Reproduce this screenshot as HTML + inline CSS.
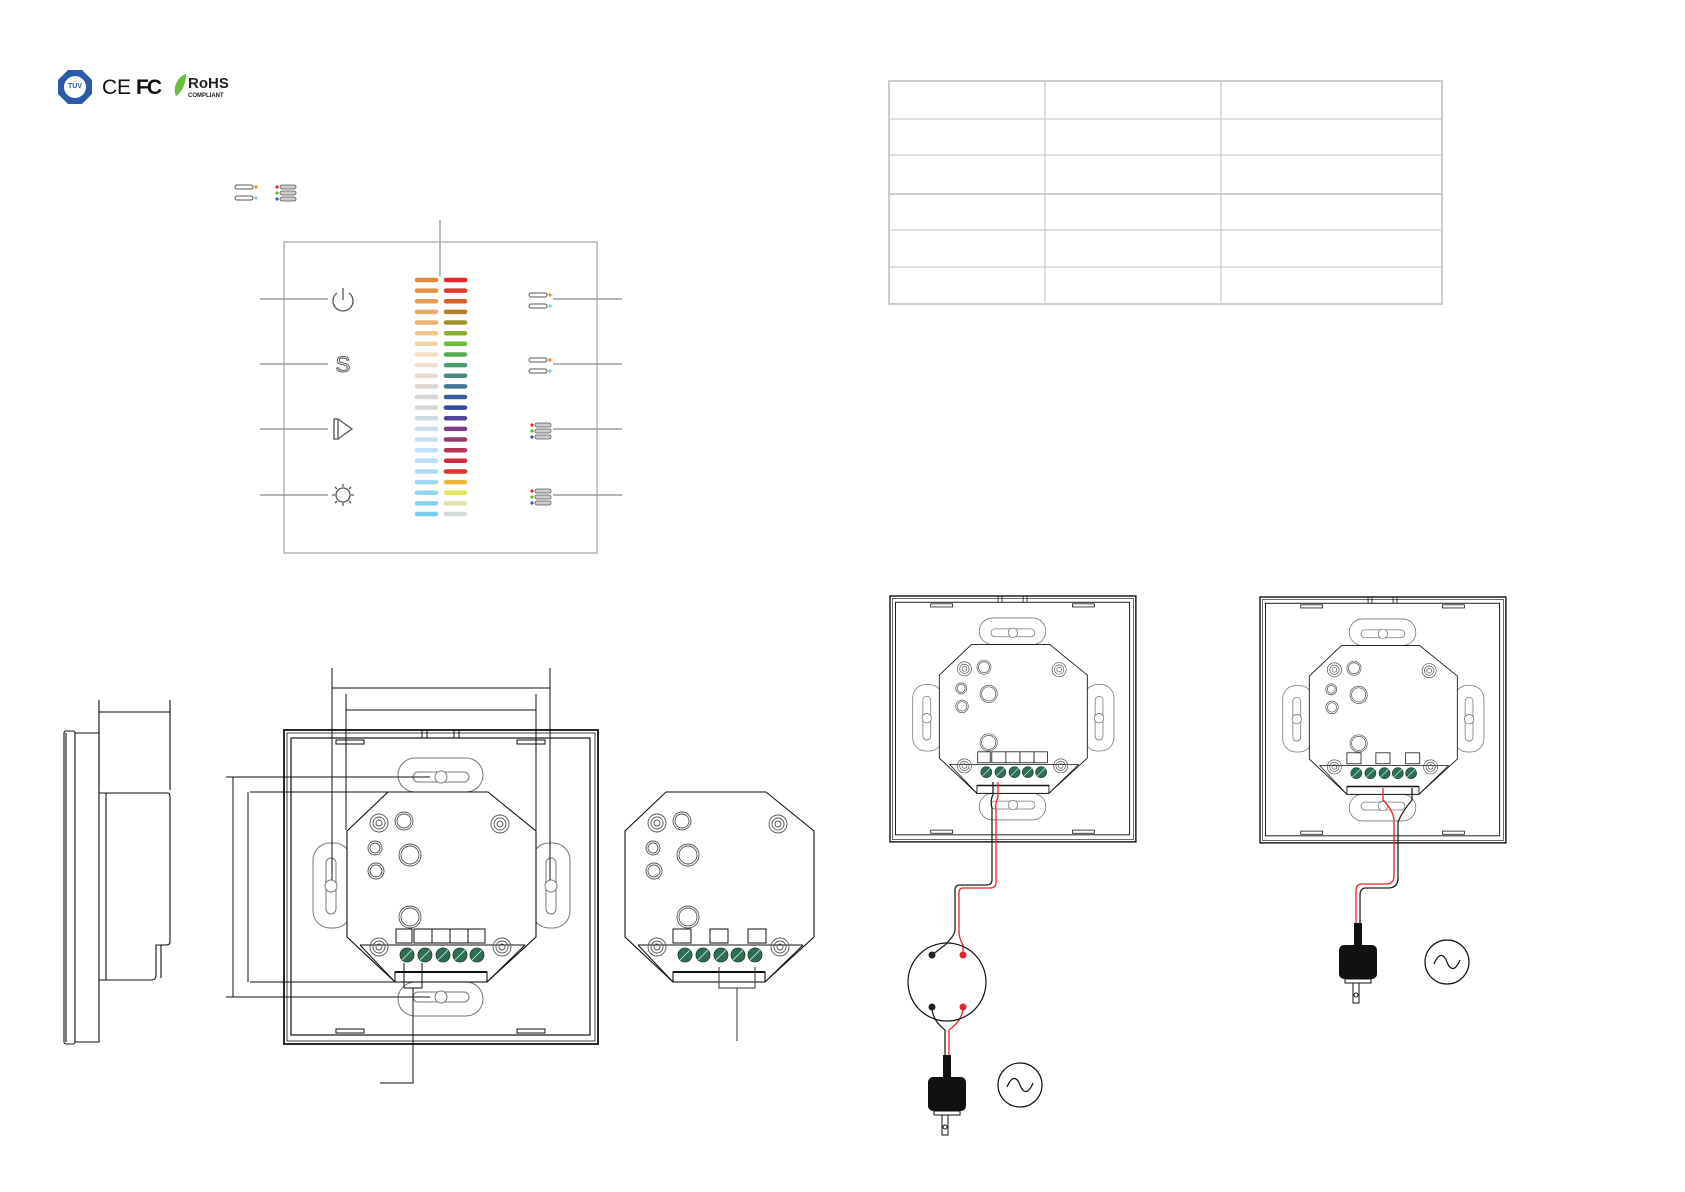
<!DOCTYPE html>
<html><head><meta charset="utf-8"><style>
html,body{margin:0;padding:0;background:#fff;}
svg{display:block;}
</style></head><body>
<svg width="1685" height="1192" viewBox="0 0 1685 1192" xmlns="http://www.w3.org/2000/svg" font-family="Liberation Sans, sans-serif">
<defs>
  <g id="plates" fill="#fff" stroke="#777" stroke-width="1">
    <rect x="114" y="28" width="85" height="34" rx="17"/>
    <rect x="129" y="42" width="56" height="10" rx="5"/><circle cx="157" cy="47" r="6"/>
    <rect x="114" y="252" width="85" height="34" rx="17"/>
    <rect x="129" y="262" width="56" height="10" rx="5"/><circle cx="157" cy="267" r="6"/>
    <rect x="29" y="113" width="38" height="85" rx="17"/>
    <rect x="42" y="128" width="10" height="56" rx="5"/><circle cx="47" cy="156" r="6"/>
    <rect x="248" y="113" width="38" height="85" rx="17"/>
    <rect x="262" y="128" width="10" height="56" rx="5"/><circle cx="267" cy="156" r="6"/>
  </g>
  <g id="frame" fill="none" stroke="#111">
    <rect x="0" y="0" width="314" height="314" stroke-width="1.8"/>
    <rect x="3" y="3" width="308" height="308" stroke-width="0.8"/>
    <rect x="7" y="8" width="299" height="297" stroke-width="1.2"/>
    <path d="M138 0 V8 M143 0 V8 M170 0 V8 M175 0 V8" stroke-width="1"/>
    <rect x="52" y="10" width="28" height="4" stroke-width="1"/>
    <rect x="233" y="10" width="28" height="4" stroke-width="1"/>
    <rect x="52" y="299" width="28" height="4" stroke-width="1"/>
    <rect x="233" y="299" width="28" height="4" stroke-width="1"/>
  </g>
  <g id="modbase">
    <polygon points="104,62 204,62 252,101 252,207 203,252 111,252 63,207 63,101" fill="#fff" stroke="#111" stroke-width="1.1"/>
    <path d="M76 215 H241 M76 215 L111 252 M241 215 L203 252" stroke="#111" stroke-width="1" fill="none"/>
    <g fill="none" stroke="#555" stroke-width="0.9">
      <circle cx="95" cy="93" r="9"/><circle cx="95" cy="93" r="6"/><circle cx="95" cy="93" r="3"/>
      <circle cx="120" cy="91" r="9"/><circle cx="120" cy="91" r="7"/>
      <circle cx="91" cy="118" r="7"/><circle cx="91" cy="118" r="5"/>
      <circle cx="92" cy="141" r="8"/><circle cx="92" cy="141" r="6"/>
      <circle cx="126" cy="125" r="11"/><circle cx="126" cy="125" r="9"/>
      <circle cx="126" cy="187" r="11"/><circle cx="126" cy="187" r="9"/>
      <circle cx="216" cy="94" r="9"/><circle cx="216" cy="94" r="6"/><circle cx="216" cy="94" r="3"/>
      <circle cx="95" cy="217" r="9"/><circle cx="95" cy="217" r="6"/><circle cx="95" cy="217" r="3"/>
      <circle cx="218" cy="217" r="9"/><circle cx="218" cy="217" r="6"/><circle cx="218" cy="217" r="3"/>
    </g>
    <g fill="#2f6e55" stroke="#1d3d30" stroke-width="0.8">
      <circle cx="123" cy="225" r="7"/><circle cx="141" cy="225" r="7"/><circle cx="159" cy="225" r="7"/><circle cx="176" cy="225" r="7"/><circle cx="193" cy="225" r="7"/>
    </g>
    <path d="M118 230 L128 220 M136 230 L146 220 M154 230 L164 220 M171 230 L181 220 M188 230 L198 220" stroke="#cfe" stroke-width="0.8"/>
    <rect x="111" y="242" width="92" height="10" fill="#fff" stroke="#111" stroke-width="1.1"/>
    <line x1="111" y1="242" x2="203" y2="242" stroke="#111" stroke-width="2"/>
  </g>
  <g id="box5" fill="#fff" stroke="#111" stroke-width="1">
    <rect x="112" y="199" width="16" height="14"/>
    <rect x="130" y="199" width="18" height="14"/><rect x="148" y="199" width="18" height="14"/><rect x="166" y="199" width="18" height="14"/><rect x="184" y="199" width="17" height="14"/>
  </g>
  <g id="box3" fill="#fff" stroke="#111" stroke-width="1">
    <rect x="111" y="199" width="18" height="14"/><rect x="148" y="199" width="18" height="14"/><rect x="186" y="199" width="18" height="14"/>
  </g>
  <g id="plug">
    <rect x="-4" y="-22" width="8" height="22" fill="#111"/>
    <rect x="-19" y="0" width="38" height="34" rx="5" fill="#111"/>
    <rect x="-13" y="34" width="26" height="4" fill="#fff" stroke="#111"/>
    <rect x="-5" y="38" width="6" height="20" fill="#fff" stroke="#111"/>
    <circle cx="-2" cy="50" r="2" fill="none" stroke="#111"/>
  </g>
  <g id="ac">
    <circle cx="0" cy="0" r="22" fill="#fff" stroke="#111" stroke-width="1.2"/>
    <path d="M-13 2 C-8 -10 -3 -8 0 0 C3 8 8 10 13 -2" fill="none" stroke="#111" stroke-width="1.2"/>
  </g>
  <g id="pair">
    <rect x="0" y="0" width="18" height="4" rx="2" fill="none" stroke="#555" stroke-width="1"/>
    <circle cx="21" cy="2" r="1.6" fill="#f08a24"/>
    <rect x="0" y="11" width="18" height="4" rx="2" fill="none" stroke="#555" stroke-width="1"/>
    <circle cx="21" cy="13" r="1.6" fill="#6ccff6"/>
  </g>
  <g id="trio">
    <circle cx="0" cy="2" r="1.6" fill="#e62429"/><rect x="3" y="0" width="16" height="4" rx="2" fill="#ccc" stroke="#555" stroke-width="0.8"/>
    <circle cx="0" cy="8" r="1.6" fill="#5bb531"/><rect x="3" y="6" width="16" height="4" rx="2" fill="#ccc" stroke="#555" stroke-width="0.8"/>
    <circle cx="0" cy="14" r="1.6" fill="#2f5fb5"/><rect x="3" y="12" width="16" height="4" rx="2" fill="#ccc" stroke="#555" stroke-width="0.8"/>
  </g>
</defs>

<!-- logos -->
<g>
  <polygon points="68,70 82,70 92,80 92,94 82,104 68,104 58,94 58,80" fill="#2a5aa8"/>
  <circle cx="75" cy="87" r="11" fill="#fff"/>
  <text x="75" y="88" font-size="7" font-weight="bold" text-anchor="middle" fill="#2a5aa8">TÜV</text>
  <text x="102" y="94" font-size="21" fill="#111">C</text><text x="117" y="94" font-size="21" fill="#111">E</text>
  <text x="136" y="94" font-size="21" font-weight="bold" fill="#111" letter-spacing="-2">FC</text>
  <path d="M176 96 C172 88 178 76 186 74 C186 84 182 92 176 96Z" fill="#6abf3a"/>
  <text x="188" y="88" font-size="15" font-weight="bold" fill="#222">RoHS</text>
  <text x="188" y="97" font-size="6" font-weight="bold" fill="#222">COMPLIANT</text>
</g>

<!-- legend icons -->
<use href="#pair" x="235" y="185"/>
<use href="#trio" x="277" y="185"/>

<!-- front panel -->
<line x1="440" y1="220" x2="440" y2="276" stroke="#888" stroke-width="1.2"/>
<rect x="284" y="242" width="313" height="311" fill="none" stroke="#aaa" stroke-width="1.3"/>
<g stroke-width="4.5" stroke-linecap="round">
<line x1="417" x2="436" y1="280" y2="280" stroke="#e08a3c"/><line x1="446" x2="465" y1="280" y2="280" stroke="#e62429"/>
<line x1="417" x2="436" y1="290.6" y2="290.6" stroke="#e3903f"/><line x1="446" x2="465" y1="290.6" y2="290.6" stroke="#e5372b"/>
<line x1="417" x2="436" y1="301.3" y2="301.3" stroke="#e69d55"/><line x1="446" x2="465" y1="301.3" y2="301.3" stroke="#d4602a"/>
<line x1="417" x2="436" y1="311.9" y2="311.9" stroke="#eaa966"/><line x1="446" x2="465" y1="311.9" y2="311.9" stroke="#b97a2b"/>
<line x1="417" x2="436" y1="322.5" y2="322.5" stroke="#edb471"/><line x1="446" x2="465" y1="322.5" y2="322.5" stroke="#9c922f"/>
<line x1="417" x2="436" y1="333.2" y2="333.2" stroke="#f2c68f"/><line x1="446" x2="465" y1="333.2" y2="333.2" stroke="#8cb02f"/>
<line x1="417" x2="436" y1="343.8" y2="343.8" stroke="#f5d3a8"/><line x1="446" x2="465" y1="343.8" y2="343.8" stroke="#6bbd35"/>
<line x1="417" x2="436" y1="354.5" y2="354.5" stroke="#f3dec3"/><line x1="446" x2="465" y1="354.5" y2="354.5" stroke="#57a953"/>
<line x1="417" x2="436" y1="365.1" y2="365.1" stroke="#ede0cf"/><line x1="446" x2="465" y1="365.1" y2="365.1" stroke="#4e9a72"/>
<line x1="417" x2="436" y1="375.7" y2="375.7" stroke="#e5dbd0"/><line x1="446" x2="465" y1="375.7" y2="375.7" stroke="#4a8780"/>
<line x1="417" x2="436" y1="386.4" y2="386.4" stroke="#ddd7cf"/><line x1="446" x2="465" y1="386.4" y2="386.4" stroke="#467694"/>
<line x1="417" x2="436" y1="397" y2="397" stroke="#d5d5d5"/><line x1="446" x2="465" y1="397" y2="397" stroke="#3b5b9c"/>
<line x1="417" x2="436" y1="407.6" y2="407.6" stroke="#d3d7da"/><line x1="446" x2="465" y1="407.6" y2="407.6" stroke="#334aa0"/>
<line x1="417" x2="436" y1="418.3" y2="418.3" stroke="#cfdbe2"/><line x1="446" x2="465" y1="418.3" y2="418.3" stroke="#544398"/>
<line x1="417" x2="436" y1="428.9" y2="428.9" stroke="#cadde9"/><line x1="446" x2="465" y1="428.9" y2="428.9" stroke="#7a3c85"/>
<line x1="417" x2="436" y1="439.5" y2="439.5" stroke="#c7def0"/><line x1="446" x2="465" y1="439.5" y2="439.5" stroke="#953b6b"/>
<line x1="417" x2="436" y1="450.2" y2="450.2" stroke="#c2e0f5"/><line x1="446" x2="465" y1="450.2" y2="450.2" stroke="#b23457"/>
<line x1="417" x2="436" y1="460.8" y2="460.8" stroke="#b9def3"/><line x1="446" x2="465" y1="460.8" y2="460.8" stroke="#d1293e"/>
<line x1="417" x2="436" y1="471.5" y2="471.5" stroke="#acdbf3"/><line x1="446" x2="465" y1="471.5" y2="471.5" stroke="#e33027"/>
<line x1="417" x2="436" y1="482.1" y2="482.1" stroke="#9fd8f3"/><line x1="446" x2="465" y1="482.1" y2="482.1" stroke="#e9b935"/>
<line x1="417" x2="436" y1="492.7" y2="492.7" stroke="#91d5f3"/><line x1="446" x2="465" y1="492.7" y2="492.7" stroke="#e2e65f"/>
<line x1="417" x2="436" y1="503.4" y2="503.4" stroke="#83d2f2"/><line x1="446" x2="465" y1="503.4" y2="503.4" stroke="#e2e3b0"/>
<line x1="417" x2="436" y1="514" y2="514" stroke="#75cdf0"/><line x1="446" x2="465" y1="514" y2="514" stroke="#d2ddd9"/>
</g>
<g stroke="#888" stroke-width="1.2">
  <line x1="260" y1="299" x2="328" y2="299"/><line x1="260" y1="364" x2="328" y2="364"/>
  <line x1="260" y1="429" x2="328" y2="429"/><line x1="260" y1="495" x2="328" y2="495"/>
  <line x1="553" y1="299" x2="622" y2="299"/><line x1="553" y1="364" x2="622" y2="364"/>
  <line x1="553" y1="429" x2="622" y2="429"/><line x1="553" y1="495" x2="622" y2="495"/>
</g>
<g fill="none" stroke="#555" stroke-width="1.3">
  <path d="M337 293 A10 10 0 1 0 349 293"/><line x1="343" y1="288" x2="343" y2="300"/>
  <rect x="334" y="419" width="4" height="20"/>
  <path d="M338 419 L352 429 L338 439"/>
  <circle cx="343" cy="495" r="7"/>
  <path d="M343 484 V487 M343 503 V506 M332 495 H335 M351 495 H354 M335 487 L337 489 M351 487 L349 489 M335 503 L337 501 M351 503 L349 501"/>
</g>
<text x="343" y="372" font-size="22" text-anchor="middle" fill="#fff" stroke="#555" stroke-width="1">S</text>
<use href="#pair" x="529" y="293"/>
<use href="#pair" x="529" y="358"/>
<use href="#trio" x="532" y="423"/>
<use href="#trio" x="532" y="489"/>

<!-- side view -->
<g fill="none" stroke="#111" stroke-width="1.1">
  <rect x="64" y="731" width="11" height="313" rx="2"/>
  <line x1="66" y1="733" x2="66" y2="1042"/>
  <path d="M75 733 H99 V1042 H75"/>
  <path d="M99 793 H168 Q170 793 170 797 V942 Q170 945 166 945 H156 V975 Q156 980 152 980 H99"/>
  <line x1="106" y1="793" x2="106" y2="980"/>
  <line x1="161" y1="945" x2="161" y2="978"/>
  <path d="M99 700 V790 M170 700 V790 M99 712 H170"/>
</g>

<!-- main back view -->
<g transform="translate(284,730)">
  <use href="#frame"/><use href="#plates"/><use href="#modbase"/><use href="#box5"/>
</g>
<g fill="none" stroke="#111" stroke-width="1">
  <path d="M332 668 V880 M550 668 V880 M332 688 H550"/>
  <path d="M346 694 V830 M536 694 V830 M346 710 H536"/>
  <path d="M240 777 H430 M240 997 H430 M250 792 H388 M250 982 H395"/>
  <path d="M248 792 V982 M233 777 V997"/>
  <path d="M226 777 H240 M226 997 H240"/>
  <path d="M404 963 V988 H422 V963 M413 988 V1083 H380"/>
</g>

<!-- standalone module -->
<g transform="translate(562,730)">
  <use href="#modbase"/><use href="#box3"/>
</g>
<path d="M719 967 V988 H755 V967 M737 988 V1041" fill="none" stroke="#333" stroke-width="1"/>

<!-- table -->
<g fill="none" stroke="#ccc" stroke-width="1.3">
  <rect x="889" y="81" width="553" height="223" stroke-width="2"/>
  <path d="M1045 81 V304 M1221 81 V304 M889 119 H1442 M889 155 H1442 M889 230 H1442 M889 267 H1442"/>
  <line x1="889" y1="194" x2="1442" y2="194" stroke-width="2"/>
</g>

<!-- wiring diagram 1 -->
<g transform="translate(890,596) scale(0.783)">
  <use href="#frame"/><use href="#plates"/><use href="#modbase"/><use href="#box5"/>
</g>
<g fill="none" stroke-width="1.3">
  <path d="M993 782 V795 Q990 800 992 808 V880 Q992 885 986 885 H960 Q955 885 955 890 V930 Q955 935 945 945 L932 955" stroke="#222"/>
  <path d="M998 782 V797 Q995 803 996 810 V882 Q996 888 990 888 H963 Q959 888 959 893 V932 Q959 938 963 945 V955" stroke="#e62429"/>
  <path d="M932 1007 Q932 1020 945 1030 V1055" stroke="#222"/>
  <path d="M963 1007 Q963 1020 949 1030 V1055" stroke="#e62429"/>
</g>
<circle cx="947" cy="982" r="39" fill="none" stroke="#111" stroke-width="1.2"/>
<circle cx="932" cy="955" r="3.5" fill="#222"/><circle cx="963" cy="955" r="3.5" fill="#e62429"/>
<circle cx="932" cy="1007" r="3.5" fill="#222"/><circle cx="963" cy="1007" r="3.5" fill="#e62429"/>
<use href="#plug" x="947" y="1077"/>
<use href="#ac" x="1020" y="1085"/>

<!-- wiring diagram 2 -->
<g transform="translate(1260,597) scale(0.783)">
  <use href="#frame"/><use href="#plates"/><use href="#modbase"/><use href="#box3"/>
</g>
<g fill="none" stroke-width="1.3">
  <path d="M1412 788 V800 Q1402 812 1398 822 V878 Q1398 888 1388 888 H1366 Q1360 888 1360 895 V925" stroke="#222"/>
  <path d="M1383 788 V800 Q1393 810 1394 820 V876 Q1394 884 1386 884 H1362 Q1356 884 1356 891 V925" stroke="#e62429"/>
</g>
<use href="#plug" x="1358" y="945"/>
<use href="#ac" x="1447" y="962"/>
</svg>
</body></html>
